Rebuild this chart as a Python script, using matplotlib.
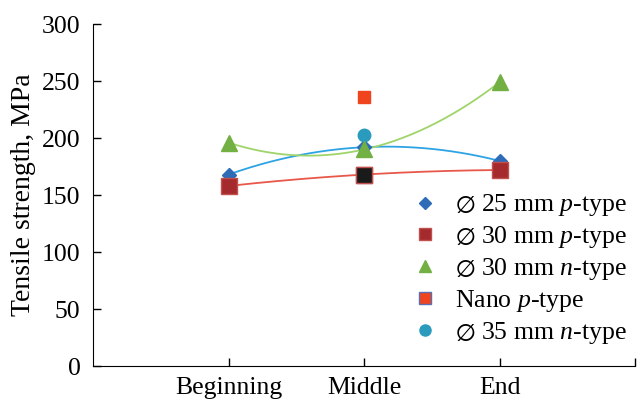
import numpy as np
import matplotlib.pyplot as plt
from matplotlib.lines import Line2D

plt.rcParams['font.family'] = ['Liberation Serif', 'DejaVu Serif']
plt.rcParams['mathtext.fontset'] = 'custom'
plt.rcParams['mathtext.rm'] = 'Liberation Serif'
plt.rcParams['mathtext.it'] = 'Liberation Serif:italic'
plt.rcParams['mathtext.fallback'] = 'stix'

# Данные
positions = ['Beginning', 'Middle', 'End']
p25 = [168, 192, 180]
p30 = [158, 168, 172]
n30 = [196, 190, 249]
nano_p = [236]
n35 = [203]
labels = [r'$\varnothing$ 25 mm $p$-type', r'$\varnothing$ 30 mm $p$-type',
          r'$\varnothing$ 30 mm $n$-type', r'Nano $p$-type',
          r'$\varnothing$ 35 mm $n$-type']

x = np.array([1, 2, 3])
xs = np.linspace(1, 3, 200)

fig = plt.figure(figsize=(6.37, 4.01), dpi=100)
ax = fig.add_axes([0.146, 0.087, 0.851, 0.853])

# Линии тренда (полином 2-й степени)
ax.plot(xs, np.polyval(np.polyfit(x, p25, 2), xs), color='#2ea3e3', lw=1.3, zorder=2)
ax.plot(xs, np.polyval(np.polyfit(x, p30, 2), xs), color='#e8574a', lw=1.3, zorder=2)
ax.plot(xs, np.polyval(np.polyfit(x, n30, 2), xs), color='#9fd46a', lw=1.3, zorder=2)

ax.plot(x, p25, 'D', color='#2e6cb8', ms=7, ls='none', zorder=3)
ax.plot(x, p30, 's', color='#a52a2e', mec='#c0504d', ms=11, ls='none', zorder=4)
ax.plot([2], [p30[1]], 's', color='#1a1a1a', mec='#c0504d', ms=11, zorder=4)
ax.plot([2], n35, 'o', color='#2a9bbd', ms=9, ls='none', zorder=3)
ax.plot(x, n30, '^', color='#72b043', ms=12, ls='none', zorder=5)
ax.plot([2], nano_p, 's', color='#f0441f', mec='#f0441f', ms=8, ls='none', zorder=3)

# маркеры для легенды
handles = [
    Line2D([], [], marker='D', color='#2e6cb8', ms=6, ls='none'),
    Line2D([], [], marker='s', color='#a52a2e', mec='#c0504d', ms=8, ls='none'),
    Line2D([], [], marker='^', color='#72b043', ms=9, ls='none'),
    Line2D([], [], marker='s', color='#f0441f', mec='#5a6fb0', ms=8, ls='none'),
    Line2D([], [], marker='o', color='#2a9bbd', ms=8, ls='none'),
]
ax.legend(handles, labels, loc='upper left', bbox_to_anchor=(0.627, 0.552),
          bbox_transform=fig.transFigure, frameon=False, fontsize=18.5,
          handlelength=1.0, handletextpad=0.65, labelspacing=0.23,
          borderpad=0, numpoints=1)

ax.set_xlim(0, 4)
ax.set_ylim(0, 300)
ax.set_xticks([1, 2, 3, 4])
ax.set_xticklabels(positions + [''])
ax.set_yticks(np.arange(0, 301, 50))
ax.tick_params(direction='in', length=6, width=1, labelsize=18.5, pad=8)
ax.tick_params(axis='y', pad=9)
ax.spines['top'].set_visible(False)
ax.spines['right'].set_visible(False)
ax.set_ylabel('Tensile strength, MPa', fontsize=20, labelpad=4)

fig.savefig('out.png', dpi=100)
